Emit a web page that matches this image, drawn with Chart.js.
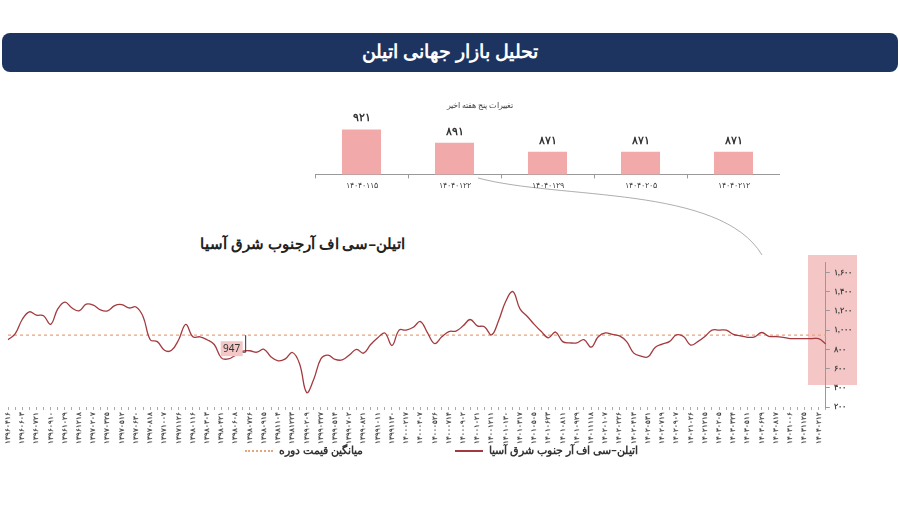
<!DOCTYPE html>
<html><head><meta charset="utf-8">
<script src="https://cdn.jsdelivr.net/npm/chart.js@4.4.1/dist/chart.umd.min.js"></script>
<style>
body{margin:0;width:900px;height:506px;background:#fff;font-family:"Noto Sans",sans-serif;position:relative;overflow:hidden}
#banner{position:absolute;left:2px;top:33px;width:896px;height:39px;background:#1d3461;border-radius:8px;color:#fff;font-weight:bold;font-size:19px;text-align:center;line-height:37px;direction:rtl}
#topWrap{position:absolute;left:315px;top:98px;width:465px;height:96px}
#mainWrap{position:absolute;left:4px;top:254px;width:852px;height:192px}
#band{position:absolute;left:808px;top:255px;width:49px;height:130px;background:#f5c6c6}
#title{position:absolute;left:180px;top:233px;width:225px;font-weight:bold;font-size:15px;direction:rtl;text-align:right;color:#222;white-space:nowrap}
.leg{position:absolute;top:442px;font-size:11px;font-weight:bold;color:#333;direction:rtl}
.leg span{display:inline-block;width:28px;vertical-align:middle;margin-right:6px}
</style></head><body>
<div id="banner">تحلیل بازار جهانی اتیلن</div>
<div id="band"></div>
<svg style="position:absolute;left:0;top:0" width="900" height="506"><path d="M478,178 C560,200 720,185 762,255" fill="none" stroke="#999" stroke-width="0.8"/></svg>
<div id="topWrap"><canvas id="top"></canvas></div>
<div id="mainWrap"><canvas id="main"></canvas></div>
<div id="title">اتیلن–سی اف آرجنوب شرق آسیا</div>
<div class="leg" style="left:245px">میانگین قیمت دوره<span style="border-top:2px dotted #e8a47a"></span></div>
<div class="leg" style="left:455px">اتیلن–سی اف آر جنوب شرق آسیا<span style="border-top:2px solid #a33a3f"></span></div>
<script>
const weekLabels = ['14040115','14040122','14040129','14040205','14040212'];
const weekValues = [921, 891, 871, 871, 871];

const dateLabels = ['13960416','13960603','13960721','13960910','13961029','13961218','13970207','13970325','13970512','13970630',
 '13970818','13971007','13971126','13980116','13980303','13980421','13980608','13980726','13980915','13981104',
 '13981223','13990209','13990327','13990514','13990702','13990821','13991011','13991130','14000217','14000407',
 '14000526','14000714','14000902','14001021','14001211','14010130','14010317','14010505','14010623','14010811',
 '14010929','14011118','14020107','14020226','14020413','14020531','14020719','14020907','14021026','14021215',
 '14030205','14030324','14030511','14030629','14030817','14031006','14031125','14040212'];
const prices = [900,960,1110,1190,1155,1150,1060,1220,1290,1230,1200,1270,1260,1210,1200,1255,1265,1230,1240,1140,
 900,880,790,790,900,1060,930,930,900,850,711,700,740,780,785,770,800,720,680,700,
 767,650,350,489,700,740,695,690,740,800,760,850,920,970,840,1000,1000,1030,1089,970,
 860,930,985,990,1044,1110,1044,1035,950,1100,1300,1400,1220,1144,1060,985,920,980,880,867,
 867,900,822,930,970,955,940,880,760,730,722,820,855,880,950,933,844,880,933,1000,
 1000,1000,955,940,925,930,975,935,933,925,912,911,911,911,911,856];
const avgPrice = 947;
const yTicks = [200,400,600,800,1000,1200,1400,1600];

const fa = s => String(s).replace(/\d/g, d => '۰۱۲۳۴۵۶۷۸۹'[d]);
const faNum = n => fa(n.toLocaleString('en-US'));

const labels = prices.map((_, i) => i % 2 === 0 ? fa(dateLabels[i / 2]) : '');

const valueLabels = {
  id: 'valueLabels',
  afterDatasetsDraw(chart) {
    const ctx = chart.ctx;
    ctx.save();
    ctx.font = 'bold 11px "Noto Sans"';
    ctx.fillStyle = '#333';
    ctx.textAlign = 'center';
    chart.getDatasetMeta(0).data.forEach((bar, i) => {
      ctx.fillText(fa(weekValues[i]), bar.x, bar.y - 8);
    });
    ctx.font = '8px "Noto Sans"';
    ctx.fillStyle = '#444';
    ctx.fillText('تغییرات پنج هفته اخیر', 165, 10);
    ctx.restore();
  }
};

new Chart(document.getElementById('top'), {
  type: 'bar',
  data: { labels: weekLabels.map(fa), datasets: [{ data: weekValues, backgroundColor: '#f2a9a9', barPercentage: 0.42, categoryPercentage: 1 }] },
  options: {
    animation: false, responsive: true, maintainAspectRatio: false,
    layout: { padding: { top: 14 } },
    plugins: { legend: { display: false }, tooltip: { enabled: false } },
    scales: {
      x: { grid: { display: true, drawOnChartArea: false, offset: true, tickLength: 4, color: '#999' }, border: { color: '#999' },
           ticks: { font: { size: 8 }, color: '#444', maxRotation: 0 } },
      y: { display: false, min: 820, max: 960 }
    }
  },
  plugins: [valueLabels]
});

const avgTag = {
  id: 'avgTag',
  afterDatasetsDraw(chart) {
    const ctx = chart.ctx, ys = chart.scales.y, xs = chart.scales.x;
    const y = ys.getPixelForValue(avgPrice) + 14, x = xs.getPixelForValue(33);
    ctx.save();
    ctx.fillStyle = '#f5c6c6';
    ctx.fillRect(x - 22, y - 8, 22, 15);
    ctx.fillStyle = '#333';
    ctx.font = '10px "Noto Sans"';
    ctx.textAlign = 'center';
    ctx.textBaseline = 'middle';
    ctx.fillText(String(avgPrice), x - 11, y);
    ctx.strokeStyle = '#333';
    ctx.lineWidth = 1;
    ctx.beginPath(); ctx.moveTo(x + 3, y - 14); ctx.lineTo(x + 3, y + 3); ctx.lineTo(x, y + 3); ctx.stroke();
    ctx.restore();
  }
};

new Chart(document.getElementById('main'), {
  type: 'line',
  data: {
    labels,
    datasets: [
      { data: prices, borderColor: '#a33a3f', borderWidth: 1.3, pointRadius: 0, tension: 0.4 },
      { data: prices.map(() => avgPrice), borderColor: '#e8a47a', borderWidth: 1.2, borderDash: [3, 3], pointRadius: 0 }
    ]
  },
  options: {
    animation: false, responsive: true, maintainAspectRatio: false,
    layout: { padding: { left: 4, top: 0 } },
    plugins: { legend: { display: false }, tooltip: { enabled: false } },
    scales: {
      x: { grid: { display: true, drawOnChartArea: false, tickLength: 3, color: '#aaa' }, border: { display: false },
           ticks: { autoSkip: false, maxRotation: 90, minRotation: 90, font: { size: 7, weight: 'bold' }, color: '#444', padding: 2 } },
      y: { position: 'right', min: 200, max: 1700,
           afterBuildTicks: ax => { ax.ticks = yTicks.map(v => ({ value: v })); },
           grid: { drawOnChartArea: false, tickLength: 4, color: '#999' }, border: { color: '#999' },
           ticks: { callback: v => faNum(v), font: { size: 8, weight: 'bold' }, color: '#444', padding: 4 } }
    }
  },
  plugins: [avgTag]
});
</script>
</body></html>
